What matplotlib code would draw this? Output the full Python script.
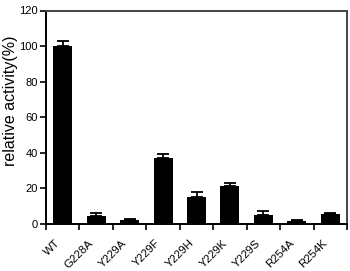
import matplotlib
matplotlib.use("Agg")
import matplotlib.pyplot as plt
import matplotlib.transforms as mtransforms
import numpy as np

plt.rcParams['font.family'] = ['Liberation Sans', 'DejaVu Sans']

categories = ["WT", "G228A", "Y229A", "Y229F", "Y229H", "Y229K", "Y229S", "R254A", "R254K"]
values = [100, 4.5, 2.3, 37, 15.3, 21.5, 5.0, 1.8, 5.6]
errors = [3.0, 1.5, 0.7, 2.3, 2.7, 1.8, 2.3, 0.5, 0.4]
yticks = [0, 20, 40, 60, 80, 100, 120]

fig = plt.figure(figsize=(3.5, 2.71), dpi=100)
ax = fig.add_axes([46/350, 47/271, 301/350, 213.5/271])
x = np.arange(len(categories))
ax.bar(x, values, width=0.57, color='black', zorder=2)
ax.errorbar(x, values, yerr=[np.zeros(len(errors)), errors], fmt='none', ecolor='black',
            elinewidth=1.3, capsize=4, capthick=1.3, zorder=3)
ax.set_xlim(-0.5, len(categories) - 0.5)
ax.set_ylim(0, 120)
ax.set_yticks(yticks)
ax.set_xticks(x)
ax.set_xticklabels(categories, rotation=45, ha='right', va='top', rotation_mode='anchor', fontsize=8.2)
ax.tick_params(axis='x', which='major', length=0, pad=10)
offset = mtransforms.ScaledTranslation(-8/100, 0, fig.dpi_scale_trans)
for lbl in ax.get_xticklabels():
    lbl.set_transform(lbl.get_transform() + offset)
ax.set_xticks(np.arange(-0.5, len(categories), 1.0), minor=True)
ax.tick_params(axis='x', which='minor', length=4, width=1.2, direction='out')
ax.tick_params(axis='y', length=4, width=1.2, labelsize=8, direction='out', pad=2)
ax.set_ylabel("relative activity(%)", fontsize=11.5)
ax.yaxis.set_label_coords(-0.093, 0.575)
for s in ['left', 'bottom']:
    ax.spines[s].set_linewidth(1.4)
for s in ['top', 'right']:
    ax.spines[s].set_linewidth(1.4)
    ax.spines[s].set_color('#444444')
fig.savefig("out.png", dpi=100)
